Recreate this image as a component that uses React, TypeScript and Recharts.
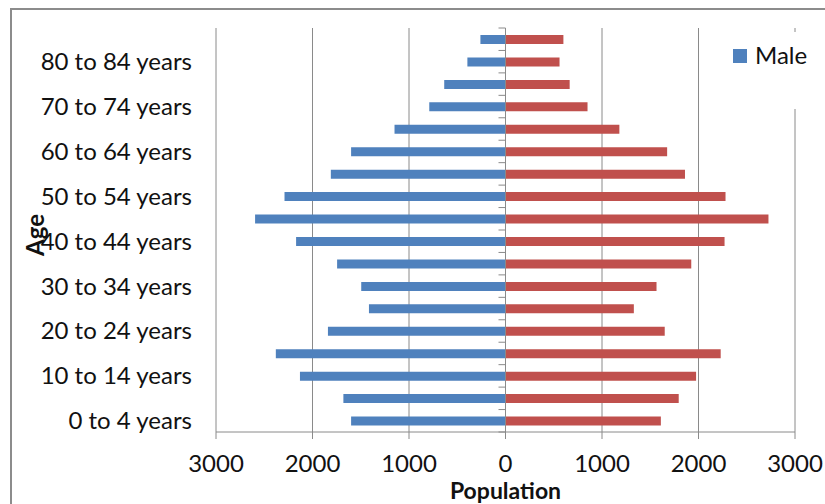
import React from 'react';
import { BarChart, Bar, XAxis, YAxis, CartesianGrid, ReferenceLine, Legend, Label } from 'recharts';

const categories = [
  '0 to 4 years', '5 to 9 years', '10 to 14 years', '15 to 19 years', '20 to 24 years',
  '25 to 29 years', '30 to 34 years', '35 to 39 years', '40 to 44 years', '45 to 49 years',
  '50 to 54 years', '55 to 59 years', '60 to 64 years', '65 to 69 years', '70 to 74 years',
  '75 to 79 years', '80 to 84 years', '85 years and over',
];
const maleValues = [1600, 1680, 2130, 2380, 1840, 1415, 1495, 1745, 2170, 2595, 2290, 1810, 1600, 1150, 790, 635, 395, 260];
const femaleValues = [1610, 1795, 1975, 2230, 1650, 1330, 1565, 1925, 2270, 2725, 2280, 1860, 1675, 1180, 850, 665, 560, 600];
const xTicks = [-3000, -2000, -1000, 0, 1000, 2000, 3000];

const data = categories.map((c, i) => ({ age: c, Male: -maleValues[i], Female: femaleValues[i] }));

const W = 825;
const H = 504;
const MARGIN = { top: 28, right: 30, bottom: 0, left: 0 };
const Y_AXIS_W = 216;
const X_AXIS_H = 72;
const PLOT_W = W - MARGIN.left - MARGIN.right - Y_AXIS_W;
const PLOT_H = H - MARGIN.top - MARGIN.bottom - X_AXIS_H;
const ZERO_X = MARGIN.left + Y_AXIS_W + PLOT_W / 2;
const BAND = PLOT_H / categories.length;
const FONT = 'Lato, "Open Sans", sans-serif';
const GRID = '#8a8a8a';
const TEXT = '#111';

function CategoryTick(props: any) {
  const { x, y, payload } = props;
  const idx = categories.indexOf(payload.value);
  return (
    <g>
      <line x1={ZERO_X - 7} x2={ZERO_X} y1={y - BAND / 2} y2={y - BAND / 2} stroke={GRID} strokeWidth={1} />
      {idx === 0 && (
        <line x1={ZERO_X - 7} x2={ZERO_X} y1={y + BAND / 2} y2={y + BAND / 2} stroke={GRID} strokeWidth={1} />
      )}
      {idx % 2 === 0 && (
        <text x={x} y={y} dy="0.35em" textAnchor="end" fill={TEXT} fontSize={24} fontFamily={FONT}>
          {payload.value}
        </text>
      )}
    </g>
  );
}

function AgeLabel(props: any) {
  const vb = props.viewBox || { x: 0, y: MARGIN.top, width: Y_AXIS_W, height: PLOT_H };
  const cx = vb.x + 36;
  const cy = vb.y + vb.height / 2 + 5;
  return (
    <text
      x={cx}
      y={cy}
      dy="0.35em"
      textAnchor="middle"
      transform={`rotate(-90, ${cx}, ${cy})`}
      fill={TEXT}
      fontSize={24}
      fontWeight="bold"
      fontFamily={FONT}
    >
      Age
    </text>
  );
}

function LegendBox(props: any) {
  const items = (props.payload || []).filter((p: any) => p.value === 'Male');
  return (
    <div style={{ width: '100%', height: '100%', background: '#fff', position: 'relative' }}>
      {items.map((p: any) => (
        <div key={p.value}>
          <div style={{ position: 'absolute', left: 8, top: 17, width: 14, height: 14, background: p.color }} />
          <div
            style={{
              position: 'absolute', left: 30, top: 8, fontSize: 24, lineHeight: '30px',
              fontFamily: FONT, color: TEXT, whiteSpace: 'nowrap',
            }}
          >
            {p.value}
          </div>
        </div>
      ))}
    </div>
  );
}

export default function App() {
  return (
    <div style={{ position: 'absolute', left: 0, top: 0, width: W, height: H, overflow: 'hidden', background: '#fff', fontFamily: FONT }}>
      <div
        style={{
          position: 'absolute', left: 10, top: 8, width: W + 20, height: H + 20,
          borderLeft: '2px solid #8c8c8c', borderTop: '2px solid #8c8c8c', boxSizing: 'border-box',
        }}
      />
      <div style={{ position: 'absolute', left: 0, top: 0 }}>
        <BarChart
          width={W}
          height={H}
          data={data}
          layout="vertical"
          stackOffset="sign"
          margin={MARGIN}
        >
          <CartesianGrid horizontal={false} vertical={true} stroke={GRID} strokeWidth={1} />
          <XAxis
            type="number"
            domain={[-3000, 3000]}
            ticks={xTicks}
            tickFormatter={(v: number) => String(Math.abs(v))}
            height={X_AXIS_H}
            stroke={GRID}
            tickSize={7}
            tickMargin={16}
            tick={{ fill: TEXT, fontSize: 24, fontFamily: FONT }}
            label={{ value: 'Population', position: 'insideBottom', offset: 5, fill: TEXT, fontSize: 23, fontWeight: 'bold', fontFamily: FONT }}
          />
          <YAxis
            type="category"
            dataKey="age"
            reversed
            width={Y_AXIS_W}
            interval={0}
            axisLine={false}
            tickLine={false}
            tickSize={0}
            tickMargin={24}
            tick={<CategoryTick />}
          >
            <Label content={<AgeLabel />} />
          </YAxis>
          <Bar dataKey="Male" stackId="pop" fill="#4F81BD" barSize={9} isAnimationActive={false} />
          <Bar dataKey="Female" stackId="pop" fill="#C0504D" barSize={9} isAnimationActive={false} />
          <ReferenceLine x={0} stroke={GRID} strokeWidth={1} />
          <Legend
            layout="horizontal"
            verticalAlign="middle"
            align="center"
            content={<LegendBox />}
            wrapperStyle={{ position: 'absolute', left: 725, top: 32, width: 92, height: 77 }}
          />
        </BarChart>
      </div>
    </div>
  );
}
